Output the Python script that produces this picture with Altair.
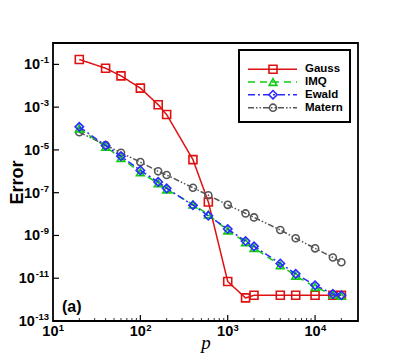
import altair as alt
import pandas as pd

# ---------------- data ----------------
p = [20, 40, 60, 100, 160, 200, 400, 600, 1000, 1600, 2000, 4000, 6000, 10000, 16000, 20000]
gauss = [1.7e-1, 6.6e-2, 2.9e-2, 7.8e-3, 1.3e-3, 4.5e-4, 3.5e-6, 3.7e-8, 7.0e-12, 1.2e-12,
         1.6e-12, 1.6e-12, 1.6e-12, 1.6e-12, 1.6e-12, 1.6e-12]
imq = [1.0e-4, 1.4e-5, 4.2e-6, 9.0e-7, 2.7e-7, 1.4e-7, 2.8e-8, 9.5e-9, 1.7e-9, 4.8e-10,
       2.6e-10, 4.0e-11, 1.3e-11, 3.9e-12, 1.7e-12, 1.5e-12]
ewald = [1.2e-4, 1.6e-5, 5.1e-6, 1.1e-6, 3.2e-7, 1.6e-7, 2.6e-8, 8.3e-9, 2.0e-9, 5.5e-10,
         3.1e-10, 4.9e-11, 1.6e-11, 4.7e-12, 1.85e-12, 1.6e-12]
matern = [6.7e-5, 1.7e-5, 7.4e-6, 2.7e-6, 1.0e-6, 6.7e-7, 1.7e-7, 7.6e-8, 2.7e-8, 1.07e-8,
          7.0e-9, 1.8e-9, 7.4e-10, 2.5e-10, 9.3e-11, 5.6e-11]

series_names = ["Gauss", "IMQ", "Ewald", "Matern"]
series_values = {"Gauss": gauss, "IMQ": imq, "Ewald": ewald, "Matern": matern}

x_major = [100, 1000, 10000]
x_minor = [20, 30, 40, 50, 60, 70, 80, 90, 200, 300, 400, 500, 600, 700, 800, 900,
           2000, 3000, 4000, 5000, 6000, 7000, 8000, 9000, 20000]
y_major = [1e-1, 1e-3, 1e-5, 1e-7, 1e-9, 1e-11]
x_label_values = [10, 100, 1000, 10000]
x_label_exps = ["1", "2", "3", "4"]
y_label_values = [1e-1, 1e-3, 1e-5, 1e-7, 1e-9, 1e-11, 1e-13]
y_label_exps = ["-1", "-3", "-5", "-7", "-9", "-11", "-13"]

# ---------------- styles ----------------
W, H = 305, 278
styles = {
    "Gauss": dict(color="#dd1111", dash=[1, 0], shape="square", size=64),
    "IMQ": dict(color="#11cc11", dash=[7, 5], shape="triangle-up", size=60),
    "Ewald": dict(color="#2a2aff", dash=[7, 3, 2, 3], shape="diamond", size=70),
    "Matern": dict(color="#555555", dash=[6, 2, 1.5, 2, 1.5, 2], shape="circle", size=50),
}
draw_order = ["Gauss", "Matern", "IMQ", "Ewald"]

xscale = alt.Scale(type="log", domain=[10, 31000], nice=False)
yscale = alt.Scale(type="log", domain=[1e-13, 1], nice=False)

font = "Liberation Sans"
BASE_FS = 14.5
EXP_FS = 9.5


def exp_width(s):
    return sum(0.333 if ch == "-" else 0.556 for ch in s) * EXP_FS


layers = []
first = True
for name in draw_order:
    st = styles[name]
    df = pd.DataFrame({"p": p, "err": series_values[name]})
    if first:
        xenc = alt.X("p:Q", scale=xscale,
                     axis=alt.Axis(values=x_label_values, ticks=False, domain=False, grid=False,
                                   labels=False,
                                   title="p", titleFont="Liberation Serif",
                                   titleFontStyle="italic", titleFontWeight="normal",
                                   titleFontSize=19, titleColor="black",
                                   titleX=W / 2, titleY=27, titleBaseline="alphabetic"))
        yenc = alt.Y("err:Q", scale=yscale,
                     axis=alt.Axis(values=y_label_values, ticks=False, domain=False, grid=False,
                                   labels=False,
                                   title="Error", titleFont=font, titleFontWeight="bold",
                                   titleFontSize=18, titleColor="black",
                                   titleX=-36, titleY=H / 2, titleBaseline="middle",
                                   titleAngle=270))
        first = False
    else:
        xenc = alt.X("p:Q", scale=xscale)
        yenc = alt.Y("err:Q", scale=yscale)
    base = alt.Chart(df)
    layers.append(base.mark_line(color=st["color"], strokeWidth=1.5,
                                 strokeDash=st["dash"]).encode(x=xenc, y=yenc))
    layers.append(base.mark_point(shape=st["shape"], size=st["size"], color=st["color"],
                                  filled=False, strokeWidth=1.6, opacity=1).encode(
        x=alt.X("p:Q", scale=xscale), y=alt.Y("err:Q", scale=yscale)))

# inward ticks
ymaj = alt.Chart(pd.DataFrame({"v": y_major})).mark_rule(color="black", strokeWidth=1.2).encode(
    y=alt.Y("v:Q", scale=yscale), x=alt.value(0), x2=alt.value(6))
xmaj = alt.Chart(pd.DataFrame({"v": x_major})).mark_rule(color="black", strokeWidth=1.2).encode(
    x=alt.X("v:Q", scale=xscale), y=alt.value(H), y2=alt.value(H - 6))
xmin = alt.Chart(pd.DataFrame({"v": x_minor})).mark_rule(color="black", strokeWidth=0.8).encode(
    x=alt.X("v:Q", scale=xscale), y=alt.value(H), y2=alt.value(H - 3))
layers += [ymaj, xmaj, xmin]

# tick labels: "10" plus raised exponent
txt = dict(font=font, fontWeight="bold", color="black")
ylab = pd.DataFrame({"v": y_label_values, "e": y_label_exps})
ylab["base"] = "10"
ylab["w"] = [exp_width(s) for s in y_label_exps]
ylab["bx"] = -4.5 - ylab["w"]
layers.append(alt.Chart(ylab).mark_text(fontSize=BASE_FS, align="right", baseline="middle",
                                        dy=1, **txt).encode(
    y=alt.Y("v:Q", scale=yscale), x=alt.X("bx:Q", scale=None), text="base:N"))
layers.append(alt.Chart(ylab).mark_text(fontSize=EXP_FS, align="right", baseline="middle",
                                        dy=-4, **txt).encode(
    y=alt.Y("v:Q", scale=yscale), x=alt.value(-4), text="e:N"))

xlab = pd.DataFrame({"v": x_label_values, "e": x_label_exps})
xlab["base"] = "10"
layers.append(alt.Chart(xlab).mark_text(fontSize=BASE_FS, align="right", baseline="middle",
                                        dx=5.5, **txt).encode(
    x=alt.X("v:Q", scale=xscale), y=alt.value(H + 11), text="base:N"))
layers.append(alt.Chart(xlab).mark_text(fontSize=EXP_FS, align="left", baseline="middle",
                                        dx=5.8, **txt).encode(
    x=alt.X("v:Q", scale=xscale), y=alt.value(H + 6.5), text="e:N"))

# legend
dummy = alt.Data(values=[{"a": 1}])
layers.append(alt.Chart(dummy).mark_rect(fill="white", stroke="black", strokeWidth=2).encode(
    x=alt.value(186), x2=alt.value(297), y=alt.value(7), y2=alt.value(79)))
rows = [26.3, 39, 51.7, 64.7]
for name, yy in zip(series_names, rows):
    st = styles[name]
    c = alt.Chart(dummy)
    layers.append(c.mark_rule(color=st["color"], strokeWidth=1.5, strokeDash=st["dash"]).encode(
        x=alt.value(195), x2=alt.value(244), y=alt.value(yy)))
    layers.append(c.mark_point(shape=st["shape"], size=st["size"], color=st["color"],
                               filled=False, strokeWidth=1.6, opacity=1).encode(
        x=alt.value(220), y=alt.value(yy)))
    layers.append(c.mark_text(text=name, font=font, fontWeight="bold", fontSize=11.5,
                              align="left", baseline="middle", color="black").encode(
        x=alt.value(252), y=alt.value(yy)))

# panel label
layers.append(alt.Chart(dummy).mark_text(text="(a)", font=font, fontWeight="bold", fontSize=16,
                                         align="left", baseline="middle", color="black").encode(
    x=alt.value(9), y=alt.value(264)))

chart = alt.layer(*layers).properties(
    width=W, height=H,
    autosize=alt.AutoSizeParams(type="none"),
    padding={"left": 45, "top": 35, "right": 38, "bottom": 33},
).configure(background="white").configure_view(stroke="black", strokeWidth=1.8)

chart.save("out.html", embed_options={"renderer": "svg", "actions": False})
